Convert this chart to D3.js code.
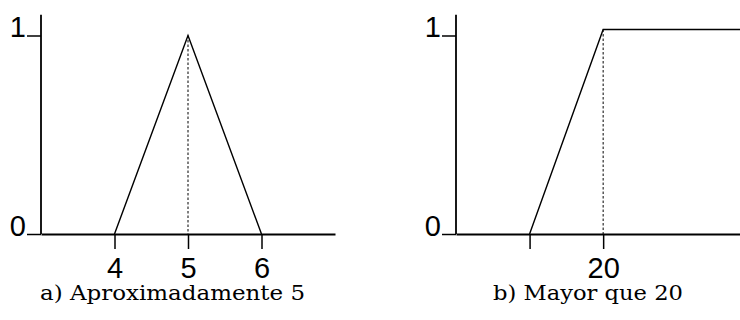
<!DOCTYPE html>
<html>
<head>
<meta charset="utf-8">
<script src="https://cdn.jsdelivr.net/npm/d3@7"></script>
<style>
  body { margin: 0; background: #fff; }
  svg { display: block; }
  .tick text { font-family: "Liberation Sans", Arial, sans-serif; font-size: 29px; fill: #000; }
  .caption { font-family: "DejaVu Serif", serif; font-size: 20.5px; fill: #000; }
</style>
</head>
<body>
<svg id="chart" width="740" height="320"></svg>
<script>
// panel a) triangular membership "approximately 5"
var triX = [4, 5, 6];
var triY = [0, 1, 0];
var triTicks = [4, 5, 6];
var triTickLabels = ["4", "5", "6"];

// panel b) "greater than 20" ramp then plateau
var rampX = [10, 20, 40];
var rampY = [0, 1.03, 1.03];
var rampTicks = [10, 20];
var rampTickLabels = ["", "20"];

var yTicks = [0, 1];
var yTickLabels = ["0", "1"];
var captions = ["a) Aproximadamente 5", "b) Mayor que 20"];

var svg = d3.select("#chart");

// shared y scale, both panels sit on the same baseline
var y = d3.scaleLinear().domain([0, 1]).range([234, 35.5]);
var yTop = 1.105;

function panel(opts) {
  var g = svg.append("g");
  var x = opts.x;

  // y axis
  var yAxis = g.append("g")
    .attr("transform", "translate(" + x.range()[0] + ",0)")
    .call(d3.axisLeft(y).tickValues(yTicks).tickSize(14).tickSizeOuter(0)
      .tickFormat(function (d, i) { return yTickLabels[i]; }));
  yAxis.select(".domain").remove();
  yAxis.selectAll(".tick line").attr("stroke", "#000").attr("stroke-width", 1.5);
  yAxis.selectAll(".tick text").attr("dy", "0.04em").attr("x", -15);
  g.append("line")
    .attr("x1", x.range()[0]).attr("x2", x.range()[0])
    .attr("y1", y(0)).attr("y2", y(yTop))
    .attr("stroke", "#000").attr("stroke-width", 1.8);

  // x axis
  var xAxis = g.append("g")
    .attr("transform", "translate(0," + y(0) + ")")
    .call(d3.axisBottom(x).tickValues(opts.ticks).tickSize(15).tickSizeOuter(0)
      .tickFormat(function (d, i) { return opts.labels[i]; }));
  xAxis.select(".domain").attr("stroke", "#000").attr("stroke-width", 1.8);
  xAxis.selectAll(".tick line").attr("stroke", "#000").attr("stroke-width", 1.5);
  xAxis.selectAll(".tick text").attr("y", 44).attr("dy", 0);

  // membership line
  var pts = opts.xs.map(function (d, i) { return [d, opts.ys[i]]; });
  g.append("path")
    .datum(pts)
    .attr("fill", "none")
    .attr("stroke", "#000")
    .attr("stroke-width", 1.4)
    .attr("stroke-linejoin", "miter")
    .attr("d", d3.line().x(function (d) { return x(d[0]); }).y(function (d) { return y(d[1]); }));

  // dotted drop line from the peak
  var peak = pts[opts.peak];
  g.append("line")
    .attr("x1", x(peak[0])).attr("x2", x(peak[0]))
    .attr("y1", y(peak[1])).attr("y2", y(0))
    .attr("stroke", "#000").attr("stroke-width", 1)
    .attr("stroke-dasharray", "2.5,2");

  g.append("text")
    .attr("class", "caption")
    .attr("x", opts.capX)
    .attr("y", 300)
    .attr("text-anchor", "middle")
    .attr("textLength", opts.capW)
    .attr("lengthAdjust", "spacingAndGlyphs")
    .text(opts.caption);
}

panel({
  x: d3.scaleLinear().domain([3, 7]).range([41, 335]),
  xs: triX, ys: triY, ticks: triTicks, labels: triTickLabels,
  peak: 1, caption: captions[0], capX: 172.5, capW: 265
});

panel({
  x: d3.scaleLinear().domain([0, 38.6]).range([456, 740]),
  xs: rampX, ys: rampY, ticks: rampTicks, labels: rampTickLabels,
  peak: 1, caption: captions[1], capX: 588, capW: 190
});
</script>
</body>
</html>
